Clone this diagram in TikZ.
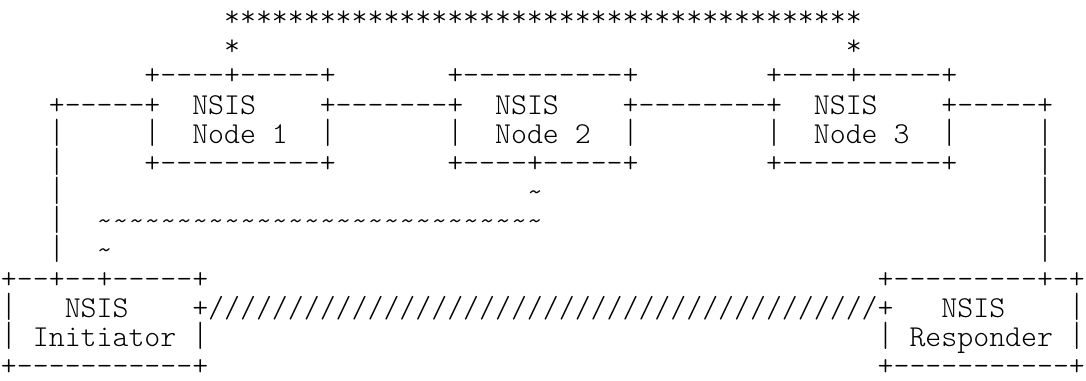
\documentclass[tikz,border=0pt]{standalone}
\usepackage{fontspec}
\usepackage{graphicx}
\usepackage{tikz}
\setmonofont{Latin Modern Mono Light}

\newcommand{\vbar}{\scalebox{1}[1.15]{|}}
\tikzset{asc/.style={anchor=base west, inner sep=0pt, outer sep=0pt,
    font=\ttfamily\fontsize{15.18pt}{17pt}\selectfont}}

\begin{document}
\begin{tikzpicture}[x=7.97pt, y=-14.55pt]
        \useasboundingbox (-0.0627,0.079) rectangle (68.07,13.172);
        % stars
        \node [asc] (stars) at (14,1) {****************************************};
        \node [asc] (starL) at (14,2) {*};
        \node [asc] (starR) at (53,2) {*};

        % NSIS nodes 1 to 3
        \node [asc] (n1top) at (9,3) {+----+-----+};
        \node [asc] (n2top) at (28,3) {+----------+};
        \node [asc] (n3top) at (48,3) {+----+-----+};

        \node [asc] (linkL) at (3,4) {+-----+};
        \node [asc] (n1a) at (12,4) {NSIS};
        \node [asc] (link12) at (20,4) {+-------+};
        \node [asc] (n2a) at (31,4) {NSIS};
        \node [asc] (link23) at (39,4) {+--------+};
        \node [asc] (n3a) at (51,4) {NSIS};
        \node [asc] (linkR) at (59,4) {+-----+};

        \node [asc] (wallL5) at (3,5) {\vbar};
        \node [asc] (n1l) at (9,5) {\vbar};
        \node [asc] (n1b) at (12,5) {Node 1};
        \node [asc] (n1r) at (20,5) {\vbar};
        \node [asc] (n2l) at (28,5) {\vbar};
        \node [asc] (n2b) at (31,5) {Node 2};
        \node [asc] (n2r) at (39,5) {\vbar};
        \node [asc] (n3l) at (48,5) {\vbar};
        \node [asc] (n3b) at (51,5) {Node 3};
        \node [asc] (n3r) at (59,5) {\vbar};
        \node [asc] (wallR5) at (65,5) {\vbar};

        \node [asc] (wallL6) at (3,6) {\vbar};
        \node [asc] (n1bot) at (9,6) {+----------+};
        \node [asc] (n2bot) at (28,6) {+----+-----+};
        \node [asc] (n3bot) at (48,6) {+----------+};
        \node [asc] (wallR6) at (65,6) {\vbar};

        % tilde path
        \node [asc] (wallL7) at (3,7) {\vbar};
        \node [asc] (tilde7) at (33,7) {\string~};
        \node [asc] (wallR7) at (65,7) {\vbar};

        \node [asc] (wallL8) at (3,8) {\vbar};
        \node [asc] (tildes) at (6,8) {\detokenize{~~~~~~~~~~~~~~~~~~~~~~~~~~~~}};
        \node [asc] (wallR8) at (65,8) {\vbar};

        \node [asc] (wallL9) at (3,9) {\vbar};
        \node [asc] (tilde9) at (6,9) {\string~};
        \node [asc] (wallR9) at (65,9) {\vbar};

        % initiator and responder
        \node [asc] (initop) at (0,10) {+--+--+-----+};
        \node [asc] (resptop) at (55,10) {+---------+-+};

        \node [asc] (inil11) at (0,11) {\vbar};
        \node [asc] (inia) at (4,11) {NSIS};
        \node [asc] (slashes) at (12,11) {+//////////////////////////////////////////+};
        \node [asc] (respa) at (59,11) {NSIS};
        \node [asc] (respr11) at (67,11) {\vbar};

        \node [asc] (inil12) at (0,12) {\vbar};
        \node [asc] (inib) at (2,12) {Initiator};
        \node [asc] (inir12) at (12,12) {\vbar};
        \node [asc] (respl12) at (55,12) {\vbar};
        \node [asc] (respb) at (57,12) {Responder};
        \node [asc] (respr12) at (67,12) {\vbar};

        \node [asc] (inibot) at (0,13) {+-----------+};
        \node [asc] (respbot) at (55,13) {+-----------+};
    \end{tikzpicture}
\end{document}
